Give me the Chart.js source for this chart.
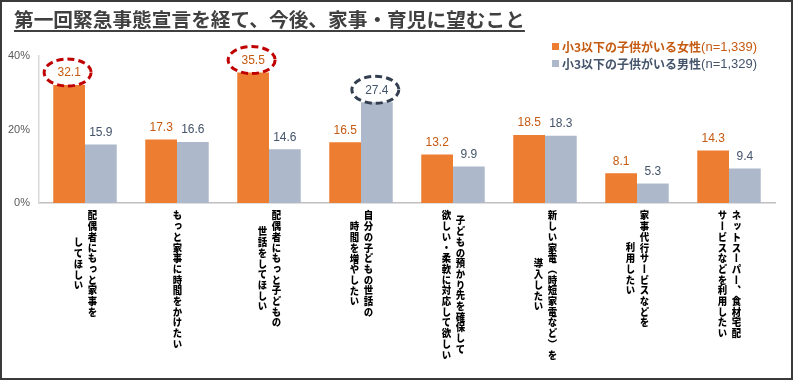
<!DOCTYPE html>
<html lang="ja">
<head>
<meta charset="utf-8">
<script src="https://cdn.jsdelivr.net/npm/chart.js@4/dist/chart.umd.min.js"></script>
<style>
  html, body { margin: 0; padding: 0; background: #fff; }
  #wrap { position: relative; width: 793px; height: 380px; overflow: hidden; }
  #frame { position: absolute; left: 0; top: 0; width: 793px; height: 380px; box-sizing: border-box; border: 2px solid #3a3a3a; pointer-events: none; }
  canvas { position: absolute; left: 0; top: 0; }
  #title { position: absolute; left: 14px; top: 6px; font-family: "Noto Sans CJK JP", sans-serif; font-weight: bold; font-size: 19.7px; line-height: 26px; color: #404040; text-decoration: underline; text-decoration-thickness: 2px; text-underline-offset: 3px; white-space: nowrap; }
  #legend { position: absolute; left: 552px; top: 38px; font-family: "Noto Sans CJK JP", sans-serif; font-size: 12px; line-height: 17px; white-space: nowrap; }
  #legend .row { display: flex; align-items: center; }
  #legend .sw { width: 7px; height: 7px; margin-right: 3px; display: inline-block; }
  #legend b { font-weight: bold; }
  #legend .n { font-family: "Liberation Sans Narrow", "Liberation Sans", sans-serif; font-size: 13px; }
  .xl { position: absolute; top: 210px; writing-mode: vertical-rl; text-align: center; font-family: "Noto Sans CJK JP", sans-serif; font-weight: 900; font-size: 10.7px; line-height: 16px; color: #000; white-space: nowrap; transform: translateX(-50%) scaleX(0.88); transform-origin: 50% 0; }
</style>
</head>
<body>
<div id="wrap">
  <canvas id="c" width="793" height="380"></canvas>
  <div id="title"></div>
  <div id="legend"></div>
  <div id="xlabels"></div>
  <div id="frame"></div>
</div>
<script>
const titleText = "第一回緊急事態宣言を経て、今後、家事・育児に望むこと";
const categories = [
  ["配偶者にもっと家事を", "してほしい"],
  ["もっと家事に時間をかけたい"],
  ["配偶者にもっと子どもの", "世話をしてほしい"],
  ["自分の子どもの世話の", "時間を増やしたい"],
  ["子どもの預かり先を確保して", "欲しい・柔軟に対応して欲しい"],
  ["新しい家電（時短家電など）を", "導入したい"],
  ["家事代行サービスなどを", "利用したい"],
  ["ネットスーパー、食材宅配", "サービスなどを利用したい"]
];
const seriesNames = ["小3以下の子供がいる女性", "小3以下の子供がいる男性"];
const seriesN = ["(n=1,339)", "(n=1,329)"];
const womenValues = [32.1, 17.3, 35.5, 16.5, 13.2, 18.5, 8.1, 14.3];
const menValues = [15.9, 16.6, 14.6, 27.4, 9.9, 18.3, 5.3, 9.4];
const yTicks = [0, 20, 40];
// highlighted values: [seriesIndex, categoryIndex]
const highlights = [[0, 0], [0, 2], [1, 3]];

const barColors = ["#ED7D31", "#ADB9CA"];
const labelColors = ["#C55A11", "#44546A"];
const ringColors = ["#C00000", "#333F50"];

document.getElementById("title").textContent = titleText;
const lg = document.getElementById("legend");
seriesNames.forEach((n, i) => {
  const row = document.createElement("div");
  row.className = "row";
  row.style.color = labelColors[i];
  row.innerHTML = '<span class="sw" style="background:' + barColors[i] + '"></span><b>' + n + '</b><span class="n">' + seriesN[i] + '</span>';
  lg.appendChild(row);
});

const numFont = '"Liberation Sans Narrow", "Liberation Sans", sans-serif';

const valueLabels = {
  id: "valueLabels",
  afterDatasetsDraw(chart) {
    const ctx = chart.ctx;
    ctx.save();
    ctx.font = "12px " + numFont;
    ctx.textAlign = "center";
    ctx.textBaseline = "middle";
    chart.data.datasets.forEach((ds, di) => {
      const meta = chart.getDatasetMeta(di);
      meta.data.forEach((bar, i) => {
        ctx.fillStyle = labelColors[di];
        ctx.fillText(ds.data[i].toFixed(1), bar.x, bar.y - 12);
      });
    });
    highlights.forEach(([di, i]) => {
      const bar = chart.getDatasetMeta(di).data[i];
      ctx.beginPath();
      ctx.ellipse(bar.x - 1.5, bar.y - 12.5, 23.5, 13.5, 0, 0, Math.PI * 2);
      ctx.strokeStyle = ringColors[di];
      ctx.lineWidth = 3;
      ctx.setLineDash([7, 4]);
      ctx.stroke();
    });
    ctx.restore();
  }
};

const chart = new Chart(document.getElementById("c"), {
  type: "bar",
  data: {
    labels: categories,
    datasets: [
      { label: seriesNames[0], data: womenValues, backgroundColor: barColors[0], categoryPercentage: 0.69, barPercentage: 1.0 },
      { label: seriesNames[1], data: menValues, backgroundColor: barColors[1], categoryPercentage: 0.69, barPercentage: 1.0 }
    ]
  },
  options: {
    responsive: false,
    devicePixelRatio: 1,
    animation: false,
    layout: { padding: { left: 0, top: 56, right: 18, bottom: 0 } },
    plugins: { legend: { display: false }, tooltip: { enabled: false } },
    scales: {
      x: {
        grid: { display: false, drawTicks: false },
        border: { display: true, color: "#BFBFBF", width: 1.5 },
        ticks: { display: false },
        afterFit(s) { s.height = 177; }
      },
      y: {
        min: 0, max: 40,
        afterBuildTicks(s) { s.ticks = yTicks.map(v => ({ value: v })); },
        grid: { display: false, drawTicks: false },
        border: { display: true, color: "#D9D9D9", width: 1.5 },
        ticks: { callback: v => v + "%", color: "#595959", font: { family: numFont, size: 11 }, padding: 9 },
        afterFit(s) { s.width = 39; }
      }
    }
  },
  plugins: [valueLabels]
});

const xl = document.getElementById("xlabels");
categories.forEach((lines, i) => {
  const d = document.createElement("div");
  d.className = "xl";
  d.style.left = chart.scales.x.getPixelForValue(i) + "px";
  d.innerHTML = lines.join("<br>");
  xl.appendChild(d);
});
</script>
</body>
</html>
